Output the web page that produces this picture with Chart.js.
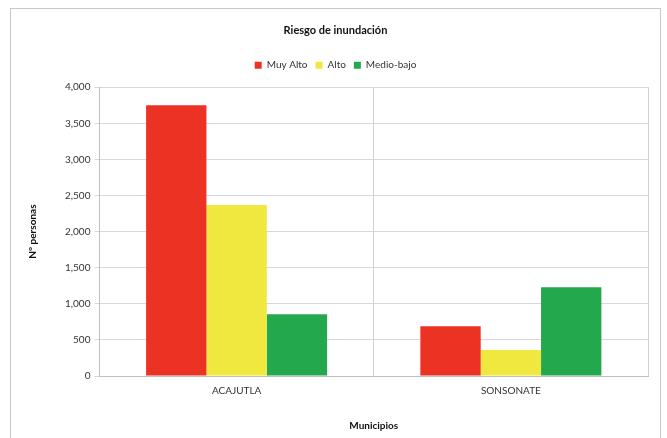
<!DOCTYPE html>
<html>
<head>
<meta charset="utf-8">
<script src="https://cdn.jsdelivr.net/npm/chart.js@4/dist/chart.umd.min.js"></script>
<style>
  html, body { margin: 0; padding: 0; background: #fff; }
  #marco { position: absolute; left: 10px; top: 8px; width: 651px; height: 440px; border: 1px solid #c8c8c8; border-bottom: none; box-sizing: border-box; }
  #lienzo { position: absolute; left: 11px; top: 9px; width: 649px; height: 429px; }
</style>
</head>
<body>
<div id="marco"></div>
<div id="lienzo"><canvas id="riesgoChart"></canvas></div>
<script>
// Datos del gráfico
var municipios = ['ACAJUTLA', 'SONSONATE'];
var muyAlto = [3750, 690];
var alto = [2370, 360];
var medioBajo = [855, 1230];
var ticksY = [0, 500, 1000, 1500, 2000, 2500, 3000, 3500, 4000];

// Espacio extra debajo de la leyenda
var espacioLeyenda = {
    id: 'espacioLeyenda',
    beforeInit: function (chart) {
        var fitOriginal = chart.legend.fit;
        chart.legend.fit = function () {
            fitOriginal.bind(chart.legend)();
            this.height += 7;
        };
    }
};

window.addEventListener('DOMContentLoaded', function () {
    var fuente = "'Lato', 'Open Sans', sans-serif";
    Chart.defaults.font.family = fuente;
    Chart.defaults.color = '#333';

    var ctx = document.getElementById('riesgoChart').getContext('2d');
    new Chart(ctx, {
        type: 'bar',
        plugins: [espacioLeyenda],
        data: {
            labels: municipios,
            datasets: [
                { label: 'Muy Alto', data: muyAlto, backgroundColor: '#ec3323' },
                { label: 'Alto', data: alto, backgroundColor: '#f0e83e' },
                { label: 'Medio-bajo', data: medioBajo, backgroundColor: '#24a84e' }
            ]
        },
        options: {
            responsive: true,
            maintainAspectRatio: false,
            animation: false,
            layout: { padding: { left: 12, right: 12, top: 11, bottom: 2 } },
            datasets: { bar: { barPercentage: 1, categoryPercentage: 0.66 } },
            plugins: {
                title: {
                    display: true,
                    text: 'Riesgo de inundación',
                    font: { size: 11, weight: 'bold' },
                    color: '#111',
                    padding: { top: 4, bottom: 15 }
                },
                legend: {
                    position: 'top',
                    labels: { boxWidth: 7, boxHeight: 7, font: { size: 10 }, padding: 8, color: '#333' }
                },
                tooltip: { enabled: false }
            },
            scales: {
                x: {
                    grid: { offset: true, color: '#d0d0d0', drawTicks: false },
                    border: { color: '#c0c0c0' },
                    ticks: { font: { size: 10 }, padding: 9, color: '#333' },
                    title: { display: true, text: 'Municipios', font: { size: 10, weight: 'bold' }, color: '#111', padding: { top: 14 } }
                },
                y: {
                    min: 0,
                    max: 4000,
                    afterBuildTicks: function (axis) {
                        axis.ticks = ticksY.map(function (v) { return { value: v }; });
                    },
                    grid: { color: '#d8d8d8', tickLength: 5 },
                    border: { color: '#c0c0c0' },
                    ticks: {
                        font: { size: 10 },
                        color: '#333',
                        padding: 4,
                        callback: function (v) { return v.toLocaleString('en-US'); }
                    },
                    title: { display: true, text: 'N° personas', font: { size: 10, weight: 'bold' }, color: '#111', padding: { bottom: 22 } }
                }
            }
        }
    });
});
</script>
</body>
</html>
